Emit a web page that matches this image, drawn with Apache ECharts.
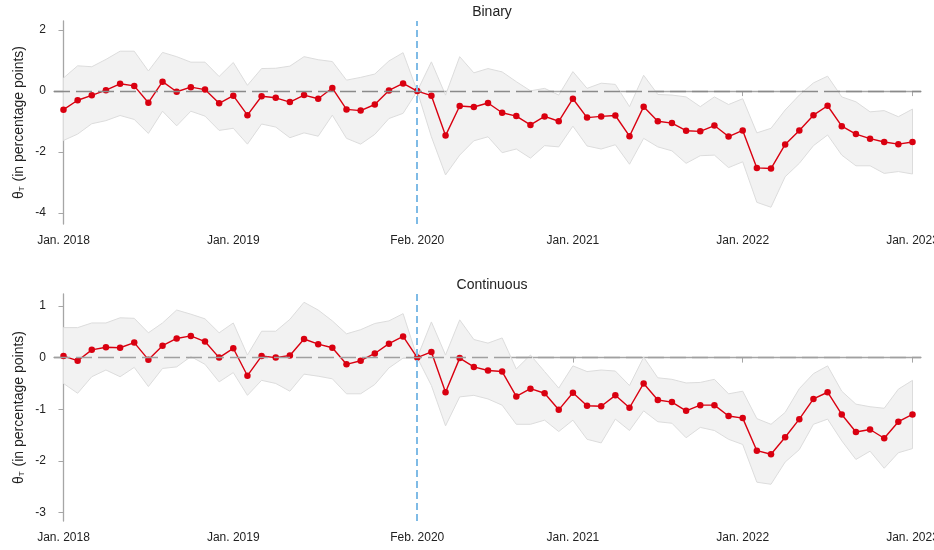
<!DOCTYPE html>
<html>
<head>
<meta charset="utf-8">
<script src="https://cdn.jsdelivr.net/npm/echarts@6/dist/echarts.min.js"></script>
<style>
html, body { margin: 0; padding: 0; background: #fff; }
#chart { width: 934px; height: 550px; }
</style>
</head>
<body>
<div id="chart"></div>
<script>
// months since Jan. 2018 (0..60)
var tickMonths = [0, 12, 25, 36, 48, 60];
var tickLabels = ['Jan. 2018', 'Jan. 2019', 'Feb. 2020', 'Jan. 2021', 'Jan. 2022', 'Jan. 2023'];
var breakMonth = 25;

var binaryEst = [-0.61, -0.30, -0.14, 0.03, 0.24, 0.17, -0.38, 0.31, -0.02, 0.13,
    0.05, -0.40, -0.15, -0.79, -0.17, -0.22, -0.36, -0.13, -0.25, 0.10,
    -0.60, -0.64, -0.44, 0.02, 0.25, 0.00, -0.15, -1.46, -0.49, -0.52,
    -0.39, -0.71, -0.82, -1.11, -0.83, -0.99, -0.25, -0.87, -0.83, -0.80,
    -1.48, -0.51, -0.99, -1.05, -1.30, -1.32, -1.13, -1.49, -1.29, -2.52,
    -2.54, -1.75, -1.29, -0.79, -0.48, -1.15, -1.41, -1.56, -1.67, -1.74, -1.67];
var binaryHi = [0.43, 0.83, 0.80, 1.04, 1.31, 1.31, 0.66, 1.27, 1.13, 0.95,
    0.95, 0.48, 0.94, 0.19, 0.74, 0.75, 0.82, 1.13, 1.03, 0.97,
    0.36, 0.45, 0.56, 0.99, 1.26, 0.00, 0.96, -0.13, 1.13, 0.60,
    0.74, 0.63, 0.31, 0.01, 0.09, -0.13, 0.64, 0.09, 0.26, 0.22,
    -0.51, 0.52, -0.11, -0.13, -0.19, -0.51, -0.19, -0.44, -0.25, -1.37,
    -1.22, -0.62, -0.13, 0.27, 0.49, -0.19, -0.35, -0.68, -0.64, -0.84, -0.59];
var binaryLo = [-1.62, -1.41, -1.07, -0.97, -0.80, -0.93, -1.39, -0.66, -1.14, -0.66,
    -0.82, -1.29, -1.22, -1.74, -1.08, -1.18, -1.53, -1.37, -1.48, -0.79,
    -1.55, -1.74, -1.42, -0.90, -0.73, 0.00, -1.50, -2.75, -2.10, -1.63,
    -1.50, -2.02, -1.90, -2.20, -1.79, -1.83, -1.15, -1.80, -1.90, -1.76,
    -2.40, -1.55, -1.83, -1.96, -2.37, -2.12, -2.10, -2.51, -2.32, -3.65,
    -3.81, -2.81, -2.37, -1.79, -1.44, -2.10, -2.45, -2.45, -2.70, -2.64, -2.72];

var contEst = [0.03, -0.06, 0.15, 0.20, 0.19, 0.29, -0.04, 0.23, 0.37, 0.42,
    0.31, 0.00, 0.18, -0.35, 0.03, 0.00, 0.04, 0.36, 0.26, 0.19,
    -0.13, -0.06, 0.08, 0.27, 0.41, 0.00, 0.11, -0.67, -0.01, -0.18,
    -0.25, -0.27, -0.75, -0.60, -0.69, -1.01, -0.68, -0.93, -0.94, -0.73,
    -0.97, -0.50, -0.82, -0.86, -1.03, -0.92, -0.92, -1.13, -1.17, -1.80,
    -1.87, -1.54, -1.19, -0.80, -0.67, -1.10, -1.44, -1.39, -1.56, -1.24, -1.10];
var contHi = [0.58, 0.58, 0.67, 0.67, 0.77, 0.76, 0.48, 0.67, 0.92, 0.84,
    0.75, 0.48, 0.67, 0.05, 0.51, 0.51, 0.74, 1.07, 0.92, 0.71,
    0.46, 0.54, 0.66, 0.71, 0.85, 0.00, 0.69, 0.05, 0.73, 0.35,
    0.28, 0.38, -0.22, 0.05, -0.27, -0.59, -0.16, -0.27, -0.24, -0.26,
    -0.54, 0.01, -0.39, -0.42, -0.49, -0.48, -0.42, -0.70, -0.65, -1.18,
    -1.29, -1.06, -0.60, -0.31, -0.16, -0.65, -0.90, -0.95, -0.98, -0.61, -0.44];
var contLo = [-0.50, -0.69, -0.37, -0.24, -0.37, -0.19, -0.56, -0.21, -0.18, 0.02,
    -0.13, -0.47, -0.29, -0.73, -0.44, -0.50, -0.65, -0.32, -0.36, -0.41,
    -0.70, -0.70, -0.52, -0.20, -0.01, 0.00, -0.54, -1.32, -0.76, -0.73,
    -0.80, -0.92, -1.29, -1.29, -1.21, -1.43, -1.21, -1.58, -1.65, -1.19,
    -1.41, -1.03, -1.24, -1.27, -1.55, -1.35, -1.41, -1.58, -1.68, -2.41,
    -2.45, -2.02, -1.78, -1.29, -1.19, -1.61, -1.97, -1.81, -2.14, -1.84, -1.76];

var binaryTicks = [-4, -2, 0, 2];
var contTicks = [-3, -2, -1, 0, 1];

var myChart = echarts.init(document.getElementById('chart'));

function pairs(arr)
{
    var out = [];
    for (var i = 0; i < arr.length; i++) out.push([i, arr[i]]);
    return out;
}

function bandSeries(idx, lo, hi)
{
    var data = [];
    for (var i = 0; i < lo.length; i++) data.push([i, lo[i], hi[i]]);
    return {
        type: 'custom',
        xAxisIndex: idx,
        yAxisIndex: idx,
        silent: true,
        z: 1,
        encode: {x: 0, y: [1, 2]},
        data: data,
        renderItem: function (params, api)
        {
            if (params.dataIndex !== 0) return;
            var pts = [];
            for (var i = 0; i < hi.length; i++) pts.push(api.coord([i, hi[i]]));
            for (var j = lo.length - 1; j >= 0; j--) pts.push(api.coord([j, lo[j]]));
            return {
                type: 'polygon',
                shape: {points: pts},
                style: {fill: '#f2f2f2', stroke: '#dcdcdc', lineWidth: 1}
            };
        }
    };
}

function refSeries(idx, zeroColor)
{
    return {
        type: 'line',
        xAxisIndex: idx,
        yAxisIndex: idx,
        data: [],
        z: 2,
        markLine: {
            silent: true,
            symbol: 'none',
            label: {show: false},
            animation: false,
            data: [
                {yAxis: 0, lineStyle: {color: zeroColor, type: [16, 6], width: 1.3}},
                {xAxis: breakMonth, lineStyle: {color: '#7fbbe6', type: [7, 4], width: 2}}
            ]
        }
    };
}

function estSeries(idx, est)
{
    return {
        type: 'line',
        xAxisIndex: idx,
        yAxisIndex: idx,
        z: 3,
        data: pairs(est),
        symbol: 'circle',
        symbolSize: 6.5,
        lineStyle: {color: '#d90010', width: 1.4},
        itemStyle: {color: '#d90010'},
        animation: false
    };
}

function xAxisDef(idx)
{
    return {
        type: 'value',
        gridIndex: idx,
        min: -0.67,
        max: 60.6,
        splitLine: {show: false},
        axisLine: {lineStyle: {color: '#a6a6a6', width: 1.3}},
        axisTick: {customValues: tickMonths, length: 5, lineStyle: {color: '#a6a6a6'}},
        axisLabel: {
            customValues: tickMonths,
            color: '#222',
            fontSize: 12,
            margin: 11,
            formatter: function (v)
            {
                return tickLabels[tickMonths.indexOf(v)];
            }
        }
    };
}

var yName = '{a|θ}{b|T}{a| (in percentage points)}';
var yNameStyle = {
    color: '#222',
    rich: {
        a: {fontSize: 14, color: '#222'},
        b: {fontSize: 8, color: '#222', verticalAlign: 'bottom', padding: [6, 1, 0, 0]}
    }
};

function yAxisDef(idx, min, max, ticks)
{
    return {
        type: 'value',
        gridIndex: idx,
        min: min,
        max: max,
        name: yName,
        nameLocation: 'middle',
        nameRotate: 90,
        nameGap: 28,
        nameMoveOverlap: false,
        nameTextStyle: yNameStyle,
        splitLine: {show: false},
        axisLine: {show: true, lineStyle: {color: '#a6a6a6', width: 1.3}},
        axisTick: {show: true, customValues: ticks, length: 5, lineStyle: {color: '#a6a6a6'}},
        axisLabel: {customValues: ticks, color: '#222', fontSize: 12, margin: 8}
    };
}

option = {
    animation: false,
    textStyle: {fontFamily: 'Arial, "Liberation Sans", sans-serif'},
    title: [
        {text: 'Binary', left: 487, top: 0, textAlign: 'center',
            textStyle: {fontSize: 14, fontWeight: 'normal', color: '#222'}},
        {text: 'Continuous', left: 487, top: 273, textAlign: 'center',
            textStyle: {fontSize: 14, fontWeight: 'normal', color: '#222'}}
    ],
    grid: [
        {left: 54, right: 13, top: 21, height: 203, outerBoundsMode: 'none', containLabel: false},
        {left: 54, right: 13, top: 294, height: 227, outerBoundsMode: 'none', containLabel: false}
    ],
    xAxis: [xAxisDef(0), xAxisDef(1)],
    yAxis: [
        yAxisDef(0, -4.36, 2.3, binaryTicks),
        yAxisDef(1, -3.16, 1.23, contTicks)
    ],
    series: [
        bandSeries(0, binaryLo, binaryHi),
        refSeries(0, '#8a8a8a'),
        estSeries(0, binaryEst),
        bandSeries(1, contLo, contHi),
        refSeries(1, '#a0a0a0'),
        estSeries(1, contEst)
    ]
};
myChart.setOption(option);
</script>
</body>
</html>
